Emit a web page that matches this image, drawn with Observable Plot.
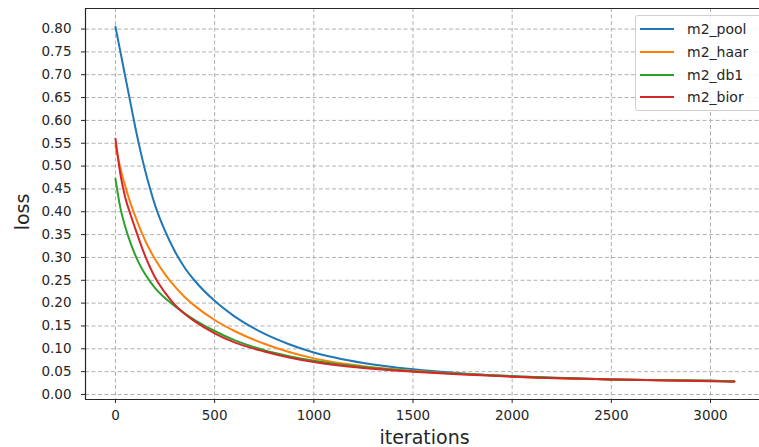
<!DOCTYPE html>
<html>
<head>
<meta charset="utf-8">
<script src="https://cdn.jsdelivr.net/npm/d3@7"></script>
<script src="https://cdn.jsdelivr.net/npm/@observablehq/plot@0.6"></script>
<style>
  html, body { margin: 0; padding: 0; background: #fff; }
  #wrap { position: relative; width: 759px; height: 447px; overflow: hidden; font-family: "DejaVu Sans", sans-serif; }
  #legend { position: absolute; left: 635px; top: 15px; width: 128px; height: 96px; box-sizing: border-box;
    border: 1px solid #d0d0d0; border-radius: 3px; background: rgba(255,255,255,0.85); }
  .item { position: absolute; left: 0; height: 20px; display: flex; align-items: center; font-size: 14px; color: #262626; }
  .item span.sw { display: inline-block; width: 34px; height: 2px; margin-left: 4px; margin-right: 13px; }
</style>
</head>
<body>
<div id="wrap"></div>
<script>
const iterations = [0, 25, 50, 75, 100, 125, 150, 175, 200, 250, 300, 350, 400, 500, 600, 750, 875, 1000, 1250, 1500, 1750, 2000, 2500, 3000, 3120];
const m2_pool = [0.805, 0.75, 0.695, 0.64, 0.585, 0.535, 0.49, 0.45, 0.414, 0.358, 0.313, 0.277, 0.249, 0.205, 0.171, 0.133, 0.110, 0.092, 0.069, 0.055, 0.046, 0.040, 0.033, 0.030, 0.029];
const m2_haar = [0.545, 0.495, 0.455, 0.42, 0.39, 0.362, 0.337, 0.315, 0.296, 0.263, 0.236, 0.213, 0.194, 0.163, 0.139, 0.111, 0.093, 0.079, 0.062, 0.052, 0.045, 0.039, 0.033, 0.030, 0.029];
const m2_db1  = [0.472, 0.408, 0.366, 0.333, 0.305, 0.282, 0.263, 0.247, 0.233, 0.211, 0.193, 0.177, 0.163, 0.139, 0.119, 0.097, 0.084, 0.074, 0.060, 0.051, 0.045, 0.040, 0.033, 0.030, 0.029];
const m2_bior = [0.56, 0.482, 0.43, 0.395, 0.363, 0.332, 0.303, 0.278, 0.256, 0.223, 0.196, 0.176, 0.16, 0.134, 0.114, 0.094, 0.081, 0.071, 0.058, 0.050, 0.044, 0.039, 0.033, 0.029, 0.028];
const seriesNames = ["m2_pool", "m2_haar", "m2_db1", "m2_bior"];
const seriesValues = [m2_pool, m2_haar, m2_db1, m2_bior];
const colors = ["#1f77b4", "#ff7f0e", "#2ca02c", "#d62728"];
const xTicks = [0, 500, 1000, 1500, 2000, 2500, 3000];
const yTicks = d3.range(0, 17).map(i => +(i * 0.05).toFixed(2));

const rows = [];
seriesNames.forEach((name, s) => {
  iterations.forEach((it, i) => rows.push({series: name, iteration: it, loss: seriesValues[s][i]}));
});

const xDomain = [-151, 3247];
const yDomain = [-0.011, 0.845];

const chart = Plot.plot({
  width: 759,
  height: 447,
  marginLeft: 85,
  marginRight: 0,
  marginTop: 8,
  marginBottom: 48,
  style: {fontFamily: "DejaVu Sans, sans-serif", fontSize: "13.5px", color: "#262626", background: "#fff"},
  x: {domain: xDomain, ticks: xTicks, tickSize: 4, tickPadding: 7, tickFormat: d3.format("d"), label: null},
  y: {domain: yDomain, ticks: yTicks, tickSize: 4, tickPadding: 10, tickFormat: d3.format(".2f"), label: null},
  color: {domain: seriesNames, range: colors},
  marks: [
    Plot.gridX(xTicks, {stroke: "#b0b0b0", strokeOpacity: 1, strokeDasharray: "4,2.5", strokeWidth: 1}),
    Plot.gridY(yTicks, {stroke: "#b0b0b0", strokeOpacity: 1, strokeDasharray: "4,2.5", strokeWidth: 1}),
    Plot.lineY(rows, {x: "iteration", y: "loss", z: "series", stroke: "series", strokeWidth: 2, curve: "monotone-x"}),
    Plot.ruleY([yDomain[0]], {stroke: "#262626", strokeWidth: 1.2}),
    Plot.ruleY([yDomain[1]], {stroke: "#262626", strokeWidth: 1.2}),
    Plot.ruleX([xDomain[0]], {stroke: "#262626", strokeWidth: 1.2}),
    Plot.text(["loss"], {frameAnchor: "left", dx: -63, dy: 8, rotate: -90, fontSize: 19, textAnchor: "middle", lineAnchor: "middle", fill: "#262626"}),
    Plot.text(["iterations"], {frameAnchor: "bottom", dx: 2, dy: 38, fontSize: 19, textAnchor: "middle", lineAnchor: "middle", fill: "#262626"})
  ]
});

const wrap = document.getElementById("wrap");
wrap.appendChild(chart);
const legend = document.createElement("div");
legend.id = "legend";
seriesNames.forEach((name, i) => {
  const item = document.createElement("div");
  item.className = "item";
  item.style.top = (3 + i * 22.8) + "px";
  const sw = document.createElement("span");
  sw.className = "sw";
  sw.style.background = colors[i];
  item.appendChild(sw);
  item.appendChild(document.createTextNode(name));
  legend.appendChild(item);
});
wrap.appendChild(legend);
</script>
</body>
</html>
